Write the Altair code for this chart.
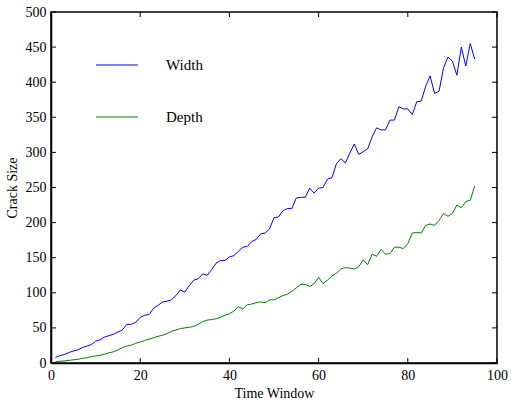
import altair as alt
import pandas as pd

time_window = list(range(1, 96))
width_vals = [8, 10.5, 12, 15, 17, 18.6, 22, 24, 26, 31,
              33, 37, 39, 41, 44, 47, 55, 55, 58, 65,
              68, 69, 78, 82, 87, 88, 90, 96, 104, 101,
              110, 118, 120, 127, 125, 133, 142, 146, 146, 151,
              153, 159, 165, 166, 173, 176, 184, 185, 191, 207,
              208, 217, 220, 220, 235, 236, 236, 249, 242, 249,
              250, 262, 264, 284, 291, 285, 299, 312, 297, 301,
              305, 322, 335, 332, 332, 346, 346, 365, 362, 362,
              354, 372, 373, 394, 409, 384, 387, 420, 436, 430,
              410, 450, 423, 455, 433]
depth_vals = [2, 2.5, 3, 3.8, 4.5, 5.3, 6.5, 7.5, 9, 10,
              11, 12.5, 14.5, 16, 18.5, 22, 24, 25.5, 28, 30,
              32, 34, 36, 38, 39.5, 42, 45, 47, 49, 50,
              51, 52, 55, 59, 61, 62, 63, 65, 68, 70,
              74, 80, 77, 83, 84, 86, 87, 86, 90, 90,
              93, 96, 98, 102, 107, 112, 112, 109, 113, 122,
              113, 118, 124, 128, 134, 136, 135, 134, 137, 147,
              140, 155, 152, 162, 155, 156, 165, 165, 163, 170,
              185, 186, 185, 196, 198, 196, 203, 213, 209, 213,
              225, 221, 230, 232, 252]
series_names = ["Width", "Depth"]
series_colors = ["#0000ff", "#008000"]
x_ticks = [0, 20, 40, 60, 80, 100]
y_ticks = [0, 50, 100, 150, 200, 250, 300, 350, 400, 450, 500]

W, H = 446, 351
FONT = "Liberation Serif"

df = pd.DataFrame({
    "t": time_window * 2,
    "size": width_vals + depth_vals,
    "series": [series_names[0]] * len(time_window) + [series_names[1]] * len(time_window),
})
xt = pd.DataFrame({"t": x_ticks})
yt = pd.DataFrame({"size": y_ticks})

xscale = alt.Scale(domain=[0, 100], nice=False, zero=False)
yscale = alt.Scale(domain=[0, 500], nice=False)
x_axis = alt.Axis(title="Time Window", values=x_ticks, ticks=False, grid=False,
                  labelFlush=False, labelOverlap=False,
                  labelPadding=5, titlePadding=4, domainColor="black", domainWidth=1.5)
y_axis = alt.Axis(title="Crack Size", values=y_ticks, ticks=False, grid=False,
                  labelFlush=False, labelOverlap=False,
                  labelPadding=5, titlePadding=6, domainColor="black", domainWidth=1.5)
X = alt.X("t:Q", scale=xscale, axis=x_axis, title="Time Window")
Y = alt.Y("size:Q", scale=yscale, axis=y_axis, title="Crack Size")

lines = alt.Chart(df).mark_line(strokeWidth=1).encode(
    x=X, y=Y,
    color=alt.Color("series:N", scale=alt.Scale(domain=series_names, range=series_colors),
                    legend=None),
)

# legend drawn inside the plot
legend_layers = []
for i, (name, col) in enumerate(zip(series_names, series_colors)):
    ypos = 53 + 52 * i
    legend_layers.append(
        alt.Chart(pd.DataFrame({"series": [name]})).mark_rule(color=col, strokeWidth=1).encode(
            x=alt.value(45), x2=alt.value(87), y=alt.value(ypos))
    )
    legend_layers.append(
        alt.Chart(pd.DataFrame({"series": [name]})).mark_text(
            align="left", baseline="middle", font=FONT, fontSize=15, color="black").encode(
            x=alt.value(115), y=alt.value(ypos), text="series:N")
    )

tick_len = 5
xb = alt.Chart(xt).mark_rule(color="black").encode(
    x=X, y=alt.value(H), y2=alt.value(H - tick_len))
xtp = alt.Chart(xt).mark_rule(color="black").encode(
    x=X, y=alt.value(0), y2=alt.value(tick_len))
yl = alt.Chart(yt).mark_rule(color="black").encode(
    y=Y, x=alt.value(0), x2=alt.value(tick_len))
yr = alt.Chart(yt).mark_rule(color="black").encode(
    y=Y, x=alt.value(W), x2=alt.value(W - tick_len))

chart = alt.layer(lines, xb, xtp, yl, yr, *legend_layers).properties(
    width=W, height=H,
    autosize=alt.AutoSizeParams(type="none"),
    padding={"left": 51, "top": 12, "right": 14, "bottom": 40},
).configure_view(
    stroke="black", strokeWidth=1.5
).configure_axis(
    labelFont=FONT, titleFont=FONT, labelFontSize=14, titleFontSize=14,
    labelColor="black", titleColor="black", titleFontWeight="normal",
    labelOverlap=False,
)

chart.save("out.html", embed_options={"renderer": "svg", "actions": False})
